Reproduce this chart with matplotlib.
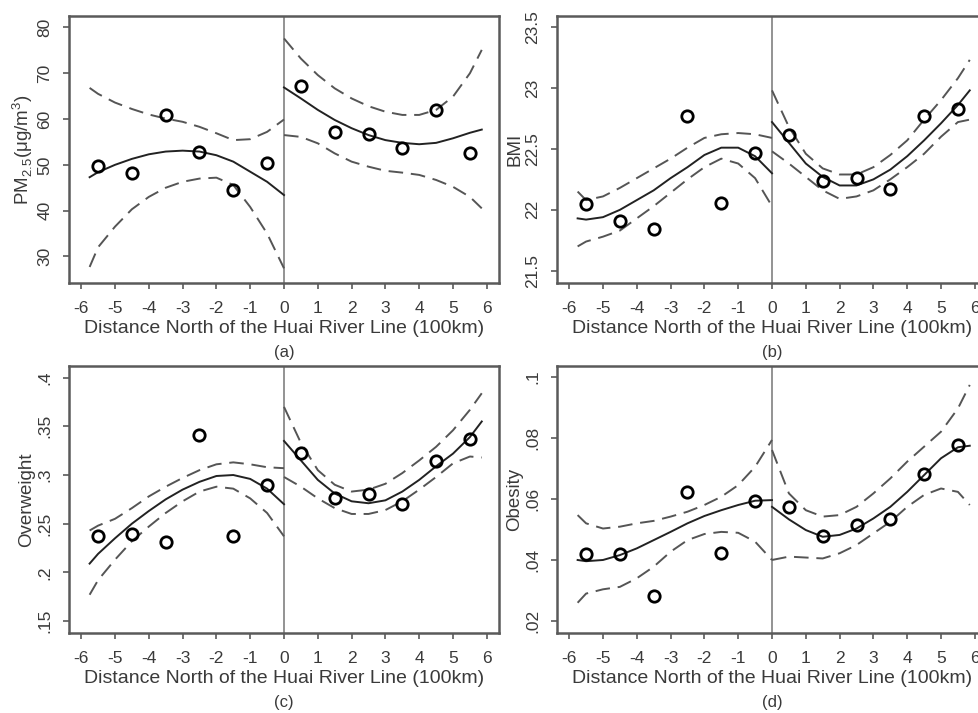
import matplotlib
matplotlib.use("Agg")
import matplotlib.pyplot as plt

plt.rcParams['font.family'] = ['Liberation Sans', 'DejaVu Sans']
plt.rcParams['mathtext.fontset'] = 'custom'
plt.rcParams['mathtext.rm'] = 'Liberation Sans'

# ---------------- data ----------------
bins_x = [-5.5, -4.5, -3.5, -2.5, -1.5, -0.5, 0.5, 1.5, 2.5, 3.5, 4.5, 5.5]
fit_left_x = [-5.75, -5.5, -5, -4.5, -4, -3.5, -3, -2.5, -2, -1.5, -1, -0.5, 0]
fit_right_x = [0, 0.5, 1, 1.5, 2, 2.5, 3, 3.5, 4, 4.5, 5, 5.5, 5.85]

# (a) PM2.5
pm_points = [49.7, 48.3, 60.8, 52.7, 44.5, 50.3, 67.3, 57.1, 56.7, 53.6, 62.0, 52.6]
pm_fit_l = [47.3, 48.4, 50.0, 51.3, 52.3, 52.9, 53.1, 52.9, 52.1, 50.7, 48.5, 46.3, 43.4]
pm_hi_l = [66.8, 65.5, 63.6, 62.2, 61.0, 60.1, 59.4, 58.3, 56.9, 55.4, 55.6, 57.2, 59.9]
pm_lo_l = [27.7, 32.0, 36.5, 40.3, 43.0, 45.0, 46.3, 47.0, 47.2, 45.6, 40.8, 35.0, 27.4]
pm_fit_r = [66.9, 64.5, 62.0, 59.8, 58.0, 56.5, 55.4, 54.8, 54.5, 54.8, 55.8, 57.0, 57.7]
pm_hi_r = [77.6, 73.2, 69.6, 66.7, 64.5, 62.8, 61.6, 60.9, 60.9, 62.0, 64.9, 70.0, 75.1]
pm_lo_r = [56.5, 56.1, 54.7, 52.5, 50.7, 49.6, 48.7, 48.3, 47.8, 46.7, 45.2, 43.0, 40.5]

# (b) BMI
bmi_points = [22.05, 21.91, 21.84, 22.77, 22.06, 22.47, 22.61, 22.24, 22.26, 22.17, 22.77, 22.83]
bmi_fit_l = [21.93, 21.92, 21.94, 22.00, 22.08, 22.16, 22.26, 22.35, 22.45, 22.51, 22.51, 22.44, 22.30]
bmi_hi_l = [22.15, 22.08, 22.11, 22.18, 22.26, 22.34, 22.42, 22.51, 22.59, 22.62, 22.63, 22.62, 22.59]
bmi_lo_l = [21.70, 21.74, 21.78, 21.83, 21.93, 22.03, 22.14, 22.25, 22.35, 22.42, 22.38, 22.26, 22.03]
bmi_fit_r = [22.72, 22.55, 22.38, 22.27, 22.20, 22.20, 22.25, 22.33, 22.44, 22.57, 22.71, 22.86, 22.98]
bmi_hi_r = [22.98, 22.68, 22.46, 22.34, 22.29, 22.29, 22.35, 22.45, 22.57, 22.74, 22.90, 23.08, 23.23]
bmi_lo_r = [22.48, 22.38, 22.27, 22.16, 22.09, 22.11, 22.16, 22.25, 22.35, 22.46, 22.60, 22.72, 22.74]

# (c) Overweight
ow_points = [0.237, 0.239, 0.231, 0.341, 0.237, 0.290, 0.323, 0.276, 0.281, 0.270, 0.314, 0.337]
ow_fit_l = [0.209, 0.219, 0.235, 0.250, 0.263, 0.275, 0.285, 0.293, 0.299, 0.300, 0.296, 0.286, 0.270]
ow_hi_l = [0.243, 0.248, 0.255, 0.266, 0.278, 0.288, 0.297, 0.305, 0.311, 0.313, 0.311, 0.308, 0.307]
ow_lo_l = [0.177, 0.192, 0.213, 0.232, 0.247, 0.261, 0.273, 0.283, 0.288, 0.286, 0.276, 0.261, 0.237]
ow_fit_r = [0.335, 0.315, 0.295, 0.281, 0.273, 0.271, 0.274, 0.283, 0.295, 0.309, 0.322, 0.339, 0.355]
ow_hi_r = [0.370, 0.333, 0.305, 0.290, 0.283, 0.285, 0.291, 0.302, 0.315, 0.329, 0.346, 0.367, 0.384]
ow_lo_r = [0.298, 0.288, 0.276, 0.266, 0.260, 0.260, 0.264, 0.273, 0.285, 0.298, 0.312, 0.319, 0.318]

# (d) Obesity
ob_points = [0.0419, 0.0419, 0.0283, 0.0623, 0.0424, 0.0594, 0.0574, 0.0479, 0.0516, 0.0535, 0.0680, 0.0778]
ob_fit_l = [0.0400, 0.0396, 0.0400, 0.0416, 0.0438, 0.0465, 0.0492, 0.0520, 0.0544, 0.0563, 0.0580, 0.0594, 0.0596]
ob_hi_l = [0.0547, 0.0520, 0.0503, 0.0509, 0.0520, 0.0528, 0.0542, 0.0558, 0.0580, 0.0607, 0.0645, 0.0705, 0.0793]
ob_lo_l = [0.0260, 0.0290, 0.0304, 0.0312, 0.0340, 0.0378, 0.0427, 0.0465, 0.0485, 0.0492, 0.0489, 0.0460, 0.0400]
ob_fit_r = [0.0574, 0.0533, 0.0498, 0.0476, 0.0482, 0.0503, 0.0536, 0.0574, 0.0623, 0.0678, 0.0733, 0.0769, 0.0774]
ob_hi_r = [0.0760, 0.0618, 0.0563, 0.0542, 0.0547, 0.0574, 0.0618, 0.0667, 0.0722, 0.0771, 0.0820, 0.0896, 0.0973]
ob_lo_r = [0.0400, 0.0411, 0.0408, 0.0405, 0.0422, 0.0449, 0.0487, 0.0525, 0.0574, 0.0613, 0.0634, 0.0623, 0.0580]

x_ticks = [-6, -5, -4, -3, -2, -1, 0, 1, 2, 3, 4, 5, 6]
x_label = "Distance North of the Huai River Line (100km)"

panels = [
    dict(pts=pm_points, fl=pm_fit_l, hl=pm_hi_l, ll=pm_lo_l, fr=pm_fit_r, hr=pm_hi_r, lr=pm_lo_r,
         yticks=[30, 40, 50, 60, 70, 80], ylabels=['30', '40', '50', '60', '70', '80'],
         ylim=(24.2, 82.5), ylabel='PM$_{\\mathregular{2.5}}$(μg/m$^{\\mathregular{3}}$)', cap='(a)'),
    dict(pts=bmi_points, fl=bmi_fit_l, hl=bmi_hi_l, ll=bmi_lo_l, fr=bmi_fit_r, hr=bmi_hi_r, lr=bmi_lo_r,
         yticks=[21.5, 22, 22.5, 23, 23.5], ylabels=['21.5', '22', '22.5', '23', '23.5'],
         ylim=(21.40, 23.59), ylabel='BMI', cap='(b)'),
    dict(pts=ow_points, fl=ow_fit_l, hl=ow_hi_l, ll=ow_lo_l, fr=ow_fit_r, hr=ow_hi_r, lr=ow_lo_r,
         yticks=[0.15, 0.2, 0.25, 0.3, 0.35, 0.4], ylabels=['.15', '.2', '.25', '.3', '.35', '.4'],
         ylim=(0.1377, 0.412), ylabel='Overweight', cap='(c)'),
    dict(pts=ob_points, fl=ob_fit_l, hl=ob_hi_l, ll=ob_lo_l, fr=ob_fit_r, hr=ob_hi_r, lr=ob_lo_r,
         yticks=[0.02, 0.04, 0.06, 0.08, 0.1], ylabels=['.02', '.04', '.06', '.08', '.1'],
         ylim=(0.0161, 0.1035), ylabel='Obesity', cap='(d)'),
]

W, H = 979, 713
fig = plt.figure(figsize=(W / 100, H / 100), dpi=100)

# axes boxes in pixels (left, top, right, bottom)
boxes = [(69, 16, 499, 283), (557, 16, 987, 283), (69, 366, 499, 633), (557, 366, 987, 633)]

spine_c = '#5a5a5a'
text_c = '#3a3a3a'
dash_c = '#555555'

for p, (l, t, r, b) in zip(panels, boxes):
    ax = fig.add_axes([l / W, 1 - b / H, (r - l) / W, (b - t) / H])
    ax.set_xlim(-6.36, 6.36)
    ax.set_ylim(*p['ylim'])
    ax.axvline(0, color='#8a8a8a', lw=1.3, zorder=1)
    for xs, fit, hi, lo in ((fit_left_x, p['fl'], p['hl'], p['ll']),
                            (fit_right_x, p['fr'], p['hr'], p['lr'])):
        ax.plot(xs, hi, color=dash_c, lw=1.4, dashes=(7.5, 4), zorder=2)
        ax.plot(xs, lo, color=dash_c, lw=1.4, dashes=(7.5, 4), zorder=2)
        ax.plot(xs, fit, color='#222222', lw=1.4, zorder=3)
    ax.plot(bins_x, p['pts'], linestyle='none', marker='o', markersize=8.2,
            markerfacecolor='none', markeredgecolor='black', markeredgewidth=2.0, zorder=4)
    for s in ax.spines.values():
        s.set_color(spine_c)
        s.set_linewidth(1.8)
    ax.set_xticks(x_ticks)
    ax.set_xticklabels([str(v) for v in x_ticks])
    ax.set_yticks(p['yticks'])
    ax.set_yticklabels(p['ylabels'], rotation=90, va='center')
    ax.tick_params(axis='both', direction='out', length=4, width=1.2, color=spine_c,
                   labelcolor=text_c, labelsize=12.5)
    ax.tick_params(axis='x', pad=9)
    ax.tick_params(axis='y', pad=8)
    ax.set_xlabel(x_label, fontsize=14, color=text_c)
    ax.xaxis.set_label_coords(0.5, -0.138)
    ax.set_ylabel(p['ylabel'], fontsize=13.5, color=text_c)
    ax.yaxis.set_label_coords(-0.079, 0.5)
    ax.text(0.5, -0.262, p['cap'], transform=ax.transAxes, ha='center', va='center',
            fontsize=12, color=text_c)

fig.savefig('out.png', dpi=100)
